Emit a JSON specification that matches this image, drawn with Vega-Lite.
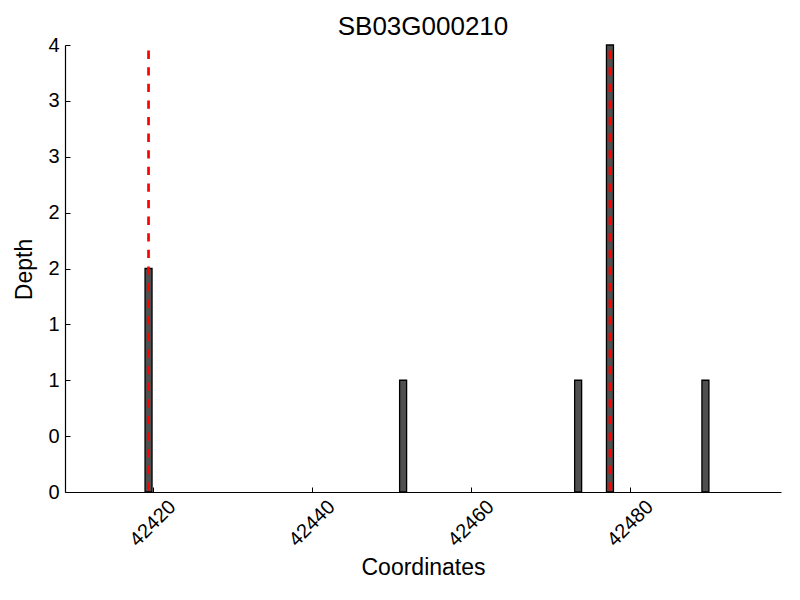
{
  "$schema": "https://vega.github.io/schema/vega-lite/v6.json",
  "width": 716,
  "height": 447,
  "autosize": "none",
  "padding": {"left": 65, "top": 45, "right": 19, "bottom": 108},
  "background": "white",
  "config": {
    "font": "Liberation Sans",
    "view": {"stroke": null},
    "axis": {"grid": false, "domainColor": "black", "domainWidth": 1.2, "tickColor": "black", "labelColor": "black", "titleColor": "black", "labelFontWeight": "normal", "titleFontWeight": "normal"}
  },
  "title": {"text": "SB03G000210", "fontSize": 26, "fontWeight": "normal", "font": "Liberation Sans", "anchor": "middle", "baseline": "alphabetic", "offset": 8, "dy": 34, "color": "black"},
  "datasets": {
    "depth": [
      {"position": 42419.5, "depth": 2},
      {"position": 42451.5, "depth": 1},
      {"position": 42473.5, "depth": 1},
      {"position": 42477.5, "depth": 4},
      {"position": 42489.5, "depth": 1}
    ],
    "markers": [
      {"position": 42419.5, "top": 3.95},
      {"position": 42477.5, "top": 3.95}
    ]
  },
  "layer": [
    {
      "data": {"name": "depth"},
      "mark": {"type": "bar", "size": 7, "fill": "#4f4f4f", "stroke": "black", "strokeWidth": 1.3},
      "encoding": {
        "x": {
          "field": "position", "type": "quantitative",
          "scale": {"domain": [42409, 42499], "nice": false, "zero": false, "padding": 0},
          "axis": {"title": "Coordinates", "values": [42420, 42440, 42460, 42480], "format": "d", "labelAngle": -45, "labelAlign": "center", "labelBaseline": "middle", "labelFontSize": 20, "labelPadding": 36, "tickSize": -5, "titleFontSize": 23, "titleBaseline": "alphabetic", "titleX": 358, "titleY": 82}
        },
        "y": {
          "field": "depth", "type": "quantitative",
          "scale": {"domain": [0, 4], "nice": false},
          "axis": {"title": "Depth", "values": [0, 0.5, 1, 1.5, 2, 2.5, 3, 3.5, 4], "labelExpr": "floor(datum.value)", "labelFontSize": 20, "labelPadding": 11, "tickSize": -5, "titleFontSize": 23, "titleBaseline": "alphabetic", "titleAngle": -90, "titleX": -34, "titleY": 224}
        }
      }
    },
    {
      "data": {"name": "markers"},
      "mark": {"type": "rule", "color": "red", "strokeWidth": 2.7, "strokeDash": [8.3, 8.3]},
      "encoding": {
        "x": {"field": "position", "type": "quantitative"},
        "y": {"field": "top", "type": "quantitative"},
        "y2": {"datum": 0}
      }
    }
  ]
}
